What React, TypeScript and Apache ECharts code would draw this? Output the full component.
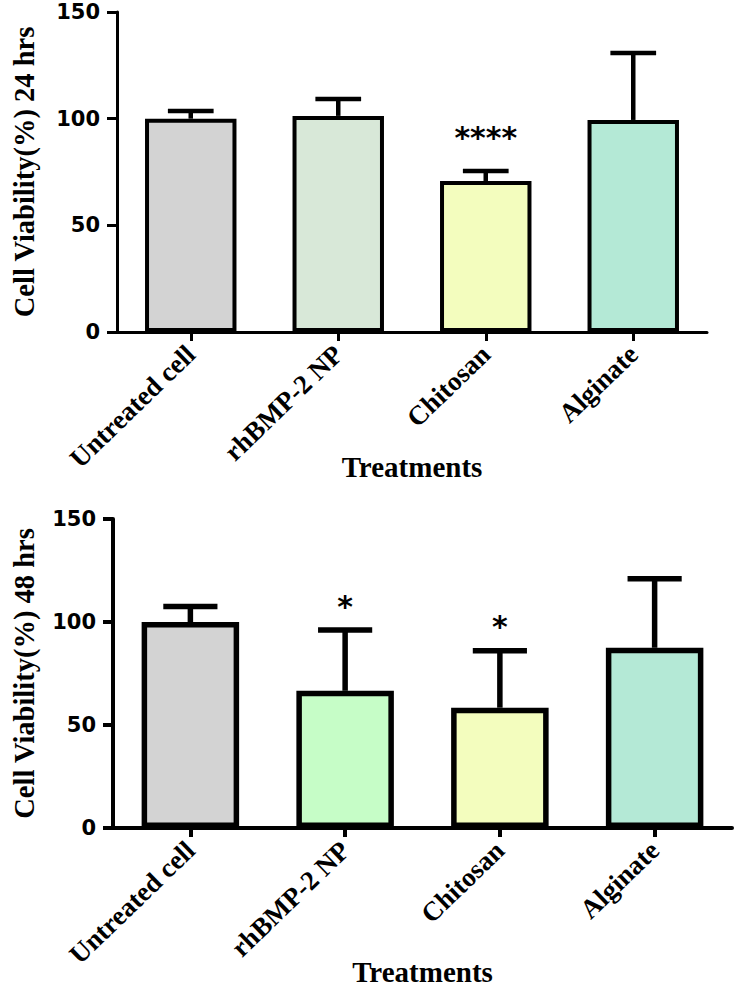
import React, { useEffect, useRef } from "react";
import * as echarts from "echarts";

const categories = ["Untreated cell", "rhBMP-2 NP", "Chitosan", "Alginate"];

const mean24 = [100, 101.3, 70.8, 99.4];
const sd24 = [3.6, 7.9, 4.7, 31.4];
const sig24 = ["", "", "****", ""];
const colors24 = ["#d3d3d3", "#d8e8d8", "#f3fdbe", "#b4e9d6"];

const mean48 = [100, 66.6, 58.4, 87.5];
const sd48 = [7.5, 29.5, 27.6, 33.5];
const sig48 = ["", "*", "*", ""];
const colors48 = ["#d3d3d3", "#c6fdc7", "#f3fdbe", "#b4e9d6"];

const yMin = 0;
const yMax = 150;
const yInterval = 50;

const SERIF = "'Liberation Serif', 'Times New Roman', serif";
const SANS = "'DejaVu Sans', sans-serif";

function makeErrRenderer(sig: string[], capRatio: number, lw: number, starOffset: number) {
  return (params: any, api: any) => {
    const i = api.value(0);
    const m = api.value(1);
    const e = api.value(2);
    const base = api.coord([i, m]);
    const top = api.coord([i, m + e]);
    const band = api.size([1, 0])[0];
    const half = (band * capRatio) / 2;
    const children: any[] = [
      {
        type: "line",
        shape: { x1: base[0], y1: base[1], x2: top[0], y2: top[1] },
        style: { stroke: "#000", lineWidth: lw },
      },
      {
        type: "line",
        shape: { x1: top[0] - half, y1: top[1], x2: top[0] + half, y2: top[1] },
        style: { stroke: "#000", lineWidth: lw },
      },
    ];
    const s = sig[params.dataIndex];
    if (s) {
      children.push({
        type: "text",
        x: top[0],
        y: top[1] - starOffset,
        style: {
          text: s,
          fill: "#000",
          fontSize: 30,
          fontWeight: "bold",
          fontFamily: SANS,
          align: "center",
          verticalAlign: "middle",
        },
      });
    }
    return { type: "group", children };
  };
}

function xAxisFor(gridIndex: number, axisW: number, nameGap: number) {
  return {
    type: "category",
    gridIndex,
    data: categories,
    name: "Treatments",
    nameLocation: "middle",
    nameGap,
    nameMoveOverlap: false,
    nameTextStyle: { fontFamily: SERIF, fontWeight: "bold", fontSize: 29, color: "#000" },
    axisLine: { show: true, lineStyle: { color: "#000", width: axisW } },
    axisTick: { show: true, alignWithLabel: true, length: 9, lineStyle: { color: "#000", width: axisW } },
    axisLabel: {
      interval: 0,
      rotate: 44,
      margin: 18,
      fontFamily: SERIF,
      fontWeight: "bold",
      fontSize: 27,
      color: "#000",
    },
    splitLine: { show: false },
  };
}

function yAxisFor(gridIndex: number, name: string, axisW: number, nameGap: number) {
  return {
    type: "value",
    gridIndex,
    min: yMin,
    max: yMax,
    interval: yInterval,
    name,
    nameLocation: "middle",
    nameGap,
    nameMoveOverlap: false,
    nameTextStyle: { fontFamily: SERIF, fontWeight: "bold", fontSize: 28.5, color: "#000" },
    axisLine: { show: true, lineStyle: { color: "#000", width: axisW } },
    axisTick: { show: true, length: 10, lineStyle: { color: "#000", width: axisW } },
    axisLabel: { margin: 17, fontFamily: SANS, fontWeight: "bold", fontSize: 21, color: "#000" },
    splitLine: { show: false },
  };
}

export default function App() {
  const ref = useRef<HTMLDivElement>(null);
  useEffect(() => {
    if (!ref.current) return;
    const chart = echarts.init(ref.current, undefined, { renderer: "svg" });
    chart.setOption({
      animation: false,
      backgroundColor: "#fff",
      grid: [
        { left: 117, top: 12, width: 590, height: 320, containLabel: false, outerBoundsMode: "none" },
        { left: 113, top: 519, width: 619, height: 309, containLabel: false, outerBoundsMode: "none" },
      ],
      xAxis: [xAxisFor(0, 3, 120), xAxisFor(1, 4, 129)],
      yAxis: [
        yAxisFor(0, "Cell Viability(%) 24 hrs", 3, 78),
        yAxisFor(1, "Cell Viability(%) 48 hrs", 4, 74),
      ],
      series: [
        {
          type: "bar",
          xAxisIndex: 0,
          yAxisIndex: 0,
          barWidth: "62%",
          data: mean24.map((v, i) => ({
            value: v,
            itemStyle: { color: colors24[i], borderColor: "#000", borderWidth: 4 },
          })),
        },
        {
          type: "custom",
          xAxisIndex: 0,
          yAxisIndex: 0,
          renderItem: makeErrRenderer(sig24, 0.31, 4.5, 33),
          data: mean24.map((v, i) => [i, v, sd24[i]]),
          z: 3,
        },
        {
          type: "bar",
          xAxisIndex: 1,
          yAxisIndex: 1,
          barWidth: "63%",
          data: mean48.map((v, i) => ({
            value: v,
            itemStyle: { color: colors48[i], borderColor: "#000", borderWidth: 5.5 },
          })),
        },
        {
          type: "custom",
          xAxisIndex: 1,
          yAxisIndex: 1,
          renderItem: makeErrRenderer(sig48, 0.35, 5.5, 24),
          data: mean48.map((v, i) => [i, v, sd48[i]]),
          z: 3,
        },
      ],
    });
    return () => chart.dispose();
  }, []);
  return (
    <div
      ref={ref}
      style={{ position: "absolute", left: 0, top: 0, width: 735, height: 991, background: "#fff" }}
    />
  );
}
